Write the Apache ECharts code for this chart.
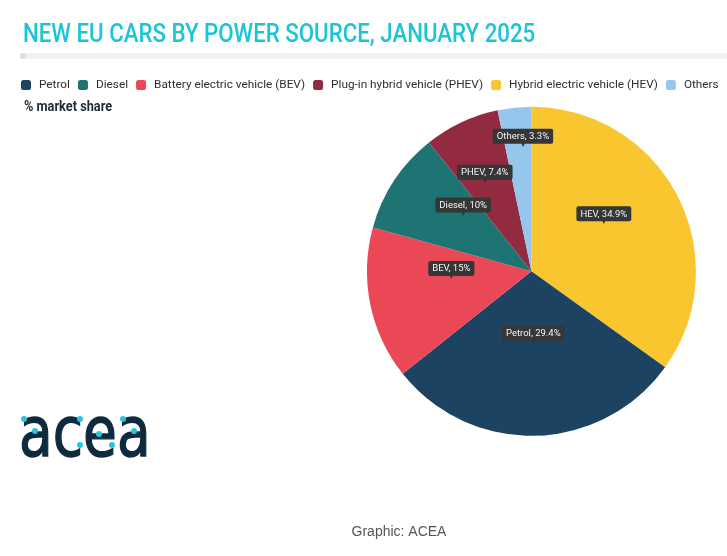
<!DOCTYPE html>
<html><head><meta charset="utf-8">
<script src="https://cdn.jsdelivr.net/npm/echarts@6/dist/echarts.min.js"></script>
<style>html,body{margin:0;padding:0;background:#fff}#c{width:727px;height:556px}</style>
</head><body><div id="c"></div>
<script>
// ---- data ----
const categories = ['Hybrid electric vehicle (HEV)', 'Petrol', 'Battery electric vehicle (BEV)', 'Diesel', 'Plug-in hybrid vehicle (PHEV)', 'Others'];
const shortNames = ['HEV', 'Petrol', 'BEV', 'Diesel', 'PHEV', 'Others'];
const shares = [34.9, 29.4, 15, 10, 7.4, 3.3];
const legendOrder = ['Petrol', 'Diesel', 'Battery electric vehicle (BEV)', 'Plug-in hybrid vehicle (PHEV)', 'Hybrid electric vehicle (HEV)', 'Others'];
const titleText = 'NEW EU CARS BY POWER SOURCE, JANUARY 2025';
const unitText = '% market share';
const sourceText = 'Graphic: ACEA';
const logoText = 'acea';

// ---- style ----
const sliceColors = ['#f9c62f', '#1c4462', '#ea4856', '#1e7473', '#922b40', '#94c7eb'];
const labelRadius = [0.52, 0.45, 0.49, 0.53, 0.60, 0.75];
const labelAngleNudge = [-5, 0, 5, 5, -3, 2];
const logoDots = [[24, 419], [35, 431], [80, 419], [80, 445], [99, 434], [112, 445], [123, 419], [134, 431]];

const chart = echarts.init(document.getElementById('c'), null, {renderer: 'canvas'});
const W = 727, H = 556;
const CX = 0.731 * W, CY = 0.488 * H, R = 164.5;
const total = shares.reduce((a, b) => a + b, 0);
const midAngles = [];
let acc = 0;
shares.forEach(v => { midAngles.push((acc + v / 2) / total * 360); acc += v; });

const graphics = [
  {type: 'text', x: 23, y: 22, scaleX: 0.856, style: {text: titleText, fill: '#1cc4d9', font: '500 26px Roboto'}},
  {type: 'rect', shape: {x: 20, y: 53, width: 707, height: 6, r: [3, 0, 0, 3]}, style: {fill: '#f1f1f1'}, silent: true},
  {type: 'circle', shape: {cx: 23, cy: 56, r: 3}, style: {fill: '#dcdcdc'}, silent: true},
  {type: 'text', x: 24, y: 100, scaleX: 0.91, style: {text: unitText, fill: '#1d2b36', font: 'bold 14px Roboto'}},
  {type: 'text', x: 19, y: 403, scaleX: 0.95, scaleY: 1.2, style: {text: logoText, fill: '#0e2a3d', stroke: '#0e2a3d', lineWidth: 1.2, font: '58px "DejaVu Sans"'}},
  {type: 'text', x: 399, y: 525, style: {text: sourceText, fill: '#555', font: '14px "Liberation Sans"', textAlign: 'center'}}
];
logoDots.forEach(d => graphics.push({type: 'circle', shape: {cx: d[0], cy: d[1], r: 3}, style: {fill: '#2cc3df'}, silent: true, z: 10}));

const option = {
  animation: false,
  legend: {
    data: legendOrder, left: 21, top: 79, icon: 'roundRect', itemWidth: 10, itemHeight: 10, itemGap: 8, width: 706, padding: 0,
    textStyle: {color: '#2e2e2e', fontSize: 11.8, fontFamily: 'Roboto', padding: [0, 0, 0, 3]}
  },
  series: [{
    type: 'pie',
    center: [CX, CY], radius: R,
    startAngle: 90, clockwise: true,
    data: categories.map((c, i) => ({name: c, value: shares[i], itemStyle: {color: sliceColors[i]}})),
    label: {
      show: true, position: 'inside',
      formatter: p => '{b|' + shortNames[p.dataIndex] + ', ' + p.value + '%}\n{a|▼}',
      rich: {
        b: {backgroundColor: '#363636', color: '#f4f4f4', fontSize: 9.5, fontFamily: 'Roboto', padding: [3, 4, 2, 4], borderRadius: 2, lineHeight: 10},
        a: {color: '#363636', fontSize: 8, lineHeight: 5, fontFamily: 'DejaVu Sans'}
      }
    },
    labelLayout: function (p) {
      const i = p.dataIndex;
      const ang = (midAngles[i] + labelAngleNudge[i]) * Math.PI / 180;
      const ax = CX + Math.sin(ang) * R * labelRadius[i];
      const ay = CY - Math.cos(ang) * R * labelRadius[i];
      return {x: ax, y: ay - p.labelRect.height / 2};
    },
    emphasis: {disabled: true}
  }],
  graphic: graphics
};
chart.setOption(option);
</script></body></html>
